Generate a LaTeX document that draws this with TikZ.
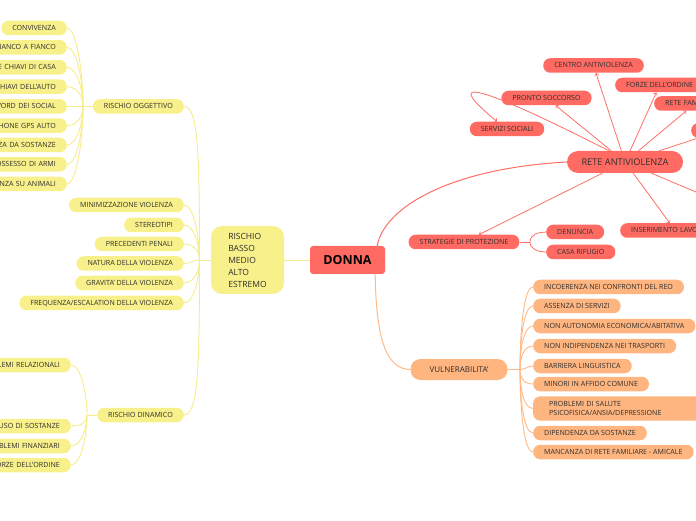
\documentclass[tikz,border=0pt]{standalone}
\usepackage{fontspec}
\setmainfont{Open Sans}
\usetikzlibrary{positioning,arrows,backgrounds}
\definecolor{redn}{HTML}{FF6B62}
\definecolor{yeln}{HTML}{F8F08A}
\definecolor{oran}{HTML}{FFB57F}
\definecolor{ylin}{HTML}{F5EC8C}
\definecolor{olin}{HTML}{FFB987}
\definecolor{rlin}{HTML}{FF6E66}
\definecolor{txt}{HTML}{2E2E2E}
\tikzstyle{box}=[rectangle, rounded corners=7pt, text=txt, font=\fontsize{7.1}{9}\selectfont,
        minimum height=14.5pt, inner xsep=11pt, inner ysep=0pt]
\tikzstyle{leaf}=[box, text height=5pt, text depth=0pt]
\tikzstyle{y-leaf}=[leaf, fill=yeln, anchor=east]
\tikzstyle{y-cut}=[y-leaf, text width=90pt, align=right]
\tikzstyle{r-leaf}=[leaf, fill=redn]
\tikzstyle{r-cut}=[r-leaf, anchor=west, align=left]
\tikzstyle{o-leaf}=[leaf, fill=oran, anchor=west]
\tikzstyle{risk}=[rectangle, rounded corners=11pt, fill=yeln, text=txt, font=\fontsize{8.5}{12}\selectfont,
        align=left, minimum width=73pt, minimum height=68pt]
\tikzstyle{donna-c}=[rectangle, rounded corners=3pt, fill=redn, text=black, font=\fontsize{12.5}{14}\selectfont\bfseries,
        minimum width=75pt, minimum height=28pt]
\tikzstyle{hub}=[rectangle, rounded corners=11pt, fill=redn, text=txt, font=\fontsize{9.2}{11}\selectfont,
        minimum width=116pt, minimum height=22pt]
\tikzstyle{vuln-c}=[rectangle, rounded corners=10pt, fill=oran, text=txt, font=\fontsize{8}{10}\selectfont,
        minimum width=97pt, minimum height=21pt]
\tikzstyle{y-line}=[draw=ylin, line width=0.9pt]
\tikzstyle{o-line}=[draw=olin, line width=0.9pt]
\tikzstyle{r-line}=[draw=rlin, line width=0.8pt]
\tikzstyle{r-arrow}=[r-line, ->]
\begin{document}
\begin{tikzpicture}[x=1pt,y=1pt]
\useasboundingbox (0,0) rectangle (696,520);
% centre
\node[donna-c] (donna) at (347.5,260) {DONNA};
\node[risk] (rischio) at (247.5,260) {RISCHIO\\BASSO\\MEDIO\\ALTO\\ESTREMO};
% rischio oggettivo
\node[y-leaf] (ogg) at (184,413.5) {RISCHIO OGGETTIVO};
\node[y-leaf] (conv) at (67,492) {CONVIVENZA};
\node[y-cut] (fianco) at (67,472.7) {FIANCO A FIANCO};
\node[y-cut] (casa) at (67,452.7) {E CHIAVI DI CASA};
\node[y-cut] (auto) at (67,433.3) {CHIAVI DELL'AUTO};
\node[y-cut] (social) at (67,413.5) {WORD DEI SOCIAL};
\node[y-cut] (gps) at (67,394.3) {PHONE GPS AUTO};
\node[y-cut] (sost) at (67,375) {ZA DA SOSTANZE};
\node[y-cut] (armi) at (67,355.7) {OSSESSO DI ARMI};
\node[y-cut] (anim) at (67,336) {ENZA SU ANIMALI};
% fattori
\node[y-leaf] (mini) at (184,315) {MINIMIZZAZIONE VIOLENZA};
\node[y-leaf] (stereo) at (184,295) {STEREOTIPI};
\node[y-leaf] (prec) at (184,276) {PRECEDENTI PENALI};
\node[y-leaf] (natura) at (184,256.5) {NATURA DELLA VIOLENZA};
\node[y-leaf] (grav) at (184,237) {GRAVITA' DELLA VIOLENZA};
\node[y-leaf] (freq) at (184,217) {FREQUENZA/ESCALATION DELLA VIOLENZA};
% rischio dinamico
\node[y-leaf] (din) at (184,105) {RISCHIO DINAMICO};
\node[y-cut] (rel) at (71,155) {LEMI RELAZIONALI};
\node[y-cut] (abuso) at (71,94) {USO DI SOSTANZE};
\node[y-cut] (fin) at (71,74) {BLEMI FINANZIARI};
\node[y-cut] (fdo) at (71,55) {ORZE DELL'ORDINE};
% rete antiviolenza
\node[hub] (rete) at (625,358) {RETE ANTIVIOLENZA};
\node[r-leaf] (centro) at (593.5,454.5) {CENTRO ANTIVIOLENZA};
\node[r-leaf, anchor=west] (forze) at (615,435) {FORZE DELL'ORDINE};
\node[r-leaf] (pronto) at (546.5,422) {PRONTO SOCCORSO};
\node[r-cut, text width=60pt] (fam) at (654,416.5) {RETE FAM};
\node[r-leaf, anchor=west, minimum width=60pt] (other) at (691,389.5) {};
\node[r-leaf] (servizi) at (507,391) {SERVIZI SOCIALI};
\node[r-leaf] (strat) at (464,278) {STRATEGIE DI PROTEZIONE};
\node[r-leaf, anchor=west] (denuncia) at (546,288) {DENUNCIA};
\node[r-leaf, anchor=west] (rifugio) at (546,268) {CASA RIFUGIO};
\node[r-cut, text width=88pt] (lavoro) at (620,289.5) {INSERIMENTO LAVO};
\coordinate (offr) at (742,308.5);
% vulnerabilita
\node[vuln-c] (vuln) at (459,150.5) {VULNERABILITA'};
\node[o-leaf] (inco) at (533,233) {INCOERENZA NEI CONFRONTI DEL REO};
\node[o-leaf] (serv) at (533,214) {ASSENZA DI SERVIZI};
\node[o-leaf] (auton) at (533,194) {NON AUTONOMIA ECONOMICA/ABITATIVA};
\node[o-leaf] (trasp) at (533,174) {NON INDIPENDENZA NEI TRASPORTI};
\node[o-leaf] (lingua) at (533,154) {BARRIERA LINGUISTICA};
\node[o-leaf] (minori) at (533,136) {MINORI IN AFFIDO COMUNE};
\node[box, fill=oran, anchor=west, align=left, text width=150pt, inner xsep=16pt, inner ysep=5pt] (salute) at (533,111.5) {PROBLEMI DI SALUTE\\PSICOFISICA/ANSIA/DEPRESSIONE};
\node[o-leaf] (dip) at (533,87) {DIPENDENZA DA SOSTANZE};
\node[o-leaf] (manc) at (533,68) {MANCANZA DI RETE FAMILIARE - AMICALE};

\begin{pgfonlayer}{background}
% yellow side
\draw[y-line] (donna.west) -- (rischio.east);
\coordinate (jr) at (199.5,260);
\draw[y-line] (rischio.west) -- (jr);
\draw[y-line] (jr) to[out=90,in=0,out distance=110pt,in distance=14pt] (ogg.east);
\draw[y-line] (jr) to[out=-90,in=0,out distance=110pt,in distance=14pt] (din.east);
\foreach \c in {mini,stereo,prec} \draw[y-line] (jr) to[out=90,in=0,in distance=10pt] (\c.east);
\draw[y-line] (jr) to[out=180,in=0] (natura.east);
\foreach \c in {grav,freq} \draw[y-line] (jr) to[out=-90,in=0,in distance=10pt] (\c.east);
\coordinate (jo) at (83,413.5);
\draw[y-line] (ogg.west) -- (jo) -- (social.east);
\foreach \c in {conv,fianco,casa,auto} \draw[y-line] (jo) to[out=90,in=0,in distance=10pt] (\c.east);
\foreach \c in {gps,sost,armi,anim} \draw[y-line] (jo) to[out=-90,in=0,in distance=10pt] (\c.east);
\coordinate (jd) at (87,105);
\draw[y-line] (din.west) -- (jd);
\draw[y-line] (jd) to[out=90,in=0,in distance=10pt] (rel.east);
\foreach \c in {abuso,fin,fdo} \draw[y-line] (jd) to[out=-90,in=0,in distance=10pt] (\c.east);
% red side
\draw[r-line, line width=1pt] ([xshift=-8pt]donna.north east) .. controls (385,315) and (455,352) .. (rete.west);
\foreach \c in {centro,forze,pronto,fam,other,strat,lavoro} \draw[r-arrow] (rete) -- (\c);
\draw[r-line] (rete) -- (offr);
\draw[r-arrow] ([xshift=-16pt]rete.north) .. controls (430,460) and (465,425) .. ([xshift=-10pt]servizi.north);
\coordinate (js) at (530,278);
\draw[r-line] (strat.east) -- (js);
\draw[r-line] (js) to[out=90,in=180] (denuncia.west);
\draw[r-line] (js) to[out=-90,in=180] (rifugio.west);
% orange side
\draw[o-line, line width=1pt] ([xshift=-10pt]donna.south east) .. controls (376,185) and (385,150.5) .. (vuln.west);
\coordinate (jv) at (520,150.5);
\draw[o-line] (vuln.east) -- (jv);
\foreach \c in {inco,serv,auton,trasp} \draw[o-line] (jv) to[out=90,in=180,in distance=10pt] (\c.west);
\draw[o-line] (jv) to[out=0,in=180] (lingua.west);
\foreach \c in {minori,salute,dip,manc} \draw[o-line] (jv) to[out=-90,in=180,in distance=10pt] (\c.west);
\end{pgfonlayer}
\end{tikzpicture}
\end{document}
